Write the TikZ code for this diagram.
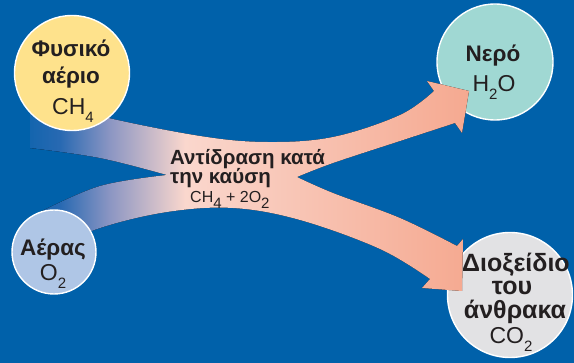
\documentclass[tikz,border=0pt]{standalone}
\usepackage{fontspec}
\setmainfont{Liberation Sans}
\usetikzlibrary{shapes.geometric}
\definecolor{bg}{RGB}{0,97,170}
\definecolor{gasc}{RGB}{254,226,140}
\definecolor{airc}{RGB}{175,198,230}
\definecolor{waterc}{RGB}{160,216,211}
\definecolor{co2c}{RGB}{226,226,228}
\definecolor{txt}{RGB}{35,31,32}
\definecolor{b1}{RGB}{40,105,178}
\definecolor{b2}{RGB}{140,150,195}
\definecolor{p1}{RGB}{250,215,205}
\definecolor{p2}{RGB}{245,168,143}
\newcommand\mysub[1]{\raisebox{-0.32em}{\fontsize{15}{15}\selectfont #1}}
\tikzset{
  circ/.style={circle, draw=white, line width=1.4pt, inner sep=0pt},
  bold/.style={font=\fontsize{22.5}{22.5}\selectfont\bfseries, text=txt, inner sep=0pt, anchor=base},
  boldco/.style={font=\fontsize{25}{25}\selectfont\bfseries, text=txt, inner sep=0pt, anchor=base},
  formula/.style={font=\fontsize{23}{23}\selectfont, text=txt, inner sep=0pt, anchor=base},
  midbold/.style={font=\fontsize{20.5}{20.5}\selectfont\bfseries, text=txt, inner sep=0pt, anchor=base west},
  midform/.style={font=\fontsize{16}{16}\selectfont, text=txt, inner sep=0pt, anchor=base west},
}
\begin{document}
\begin{tikzpicture}[x=1pt,y=-1pt]
\useasboundingbox (0,0) rectangle (574,363);
\fill[bg] (0,0) rectangle (574,363);
% product circles (under arrow tips)
\node[circ, fill=waterc, minimum size=116pt] (water) at (495,62) {};
\node[circ, fill=co2c, minimum size=125pt] (co2) at (510,295) {};
% reaction band
\begin{scope}
\clip plot[smooth,tension=0.6] coordinates {(30,95) (100,116) (200,136) (267,142) (333,137) (400,115) (434,91)}
 -- (427,81) -- (469,91) -- (462,133) -- (455,123)
 -- plot[smooth,tension=0.6] coordinates {(455,123) (400,141) (333,163) (297,177)}
 -- plot[smooth,tension=0.6] coordinates {(297,177) (333,193) (400,218) (457,246)}
 -- (463,239) -- (462,291) -- (422,288) -- (430,279)
 -- plot[smooth,tension=0.6] coordinates {(430,279) (380,249) (300,220) (233,208) (167,212) (100,228) (50,250)}
 -- plot[smooth,tension=0.6] coordinates {(40,212) (100,186) (167,175)}
 -- plot[smooth,tension=0.6] coordinates {(167,175) (100,158) (30,148)}
 -- cycle;
\fill[left color=bg, right color=b1] (0,0) rectangle (60,363);
\fill[left color=b1, right color=b2] (60,0) rectangle (110,363);
\fill[left color=b2, right color=p1] (110,0) rectangle (185,363);
\fill[left color=p1, right color=p2] (185,0) rectangle (475,363);
\end{scope}
% reactant circles (over band ends)
\node[circ, fill=gasc, minimum size=115pt] (gas) at (72,73) {};
\node[circ, fill=airc, minimum size=84pt] (air) at (54,252) {};
% labels
\node[bold] (gasA) at (71,57) {Φυσικό};
\node[bold] (gasB) at (71,84) {αέριο};
\node[formula] (gasC) at (73,115) {CH\mysub{4}};
\node[bold] (airA) at (53,256) {Αέρας};
\node[formula] (airB) at (53,281) {O\mysub{2}};
\node[bold] (watA) at (493,62) {Νερό};
\node[formula] (watB) at (494,92) {H\mysub{2}O};
\node[boldco] (co2A) at (516,272) {Διοξείδιο};
\node[boldco] (co2B) at (512,295) {του};
\node[boldco] (co2C) at (515,319) {άνθρακα};
\node[formula] (co2D) at (511,344) {CO\mysub{2}};
\node[midbold] (rxA) at (170,165) {Αντίδραση κατά};
\node[midbold] (rxB) at (170,184) {την καύση};
\node[midform] (rxC) at (190,203) {CH\mysub{4} + 2O\mysub{2}};
\end{tikzpicture}
\end{document}
